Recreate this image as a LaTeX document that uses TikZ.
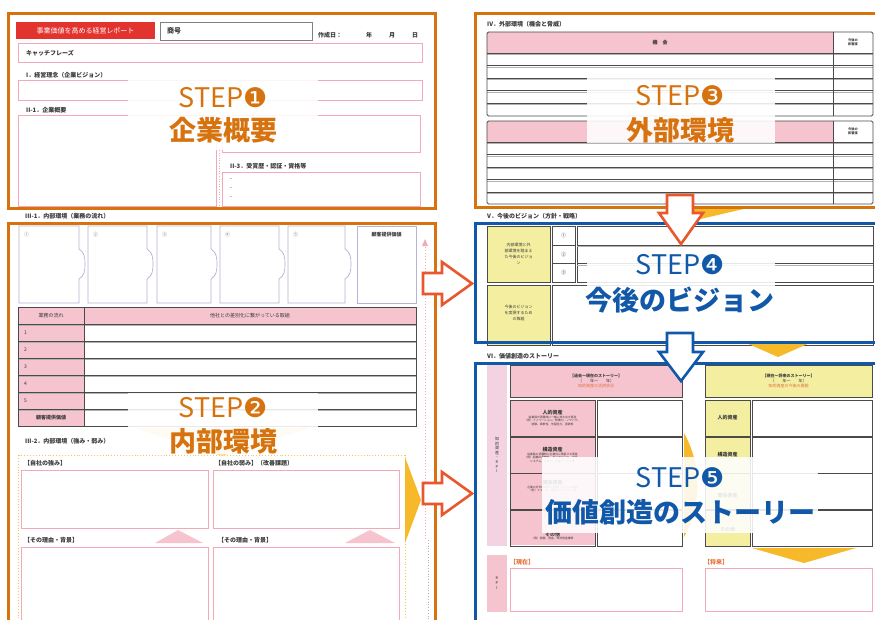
\documentclass[tikz,border=0pt]{standalone}
\usepackage{fontspec}
\newfontfamily\jp{Noto Sans CJK JP}
\newfontfamily\dingfont{DejaVu Sans}
\usetikzlibrary{calc}
\definecolor{frameO}{HTML}{D6730F}
\definecolor{frameB}{HTML}{1158A8}
\definecolor{arrR}{HTML}{E8572D}
\definecolor{pinkF}{HTML}{F5C4CE}
\definecolor{pinkL}{HTML}{F2A9B8}
\definecolor{lavF}{HTML}{F3D2E2}
\definecolor{yelF}{HTML}{F4EEA0}
\definecolor{yelW}{HTML}{F6B92A}
\definecolor{redH}{HTML}{E2332E}
\definecolor{lineD}{HTML}{4A4A4A}
\definecolor{flowL}{HTML}{B4B4D4}
\definecolor{txtG}{HTML}{3A3A3A}
\definecolor{kpiO}{HTML}{E2703A}
\begin{document}
\begin{tikzpicture}[x=1pt,y=-1pt,
  tx/.style={inner sep=0pt, text=txtG, font=\jp\fontsize{5}{6}\selectfont},
  txb/.style={inner sep=0pt, text=txtG, font=\jp\bfseries\fontsize{5}{6}\selectfont},
  sec/.style={inner sep=0pt, anchor=west, text=txtG, font=\jp\bfseries\fontsize{6}{7}\selectfont},
  desc/.style={inner sep=0pt, text=txtG, align=center, font=\jp\fontsize{2.8}{3.4}\selectfont},
  pinkbox/.style={draw=pinkL, line width=0.5pt},
  tline/.style={draw=lineD, line width=0.9pt},
  flowbox/.style={draw=flowL, line width=0.7pt},
  frameo/.style={draw=frameO, line width=3pt},
  frameb/.style={draw=frameB, line width=3pt},
  stepbg/.style={fill=white, fill opacity=0.88},
  stepa/.style={inner sep=0pt, text height=20pt, text depth=0pt, font=\jp\fontsize{27}{30}\selectfont},
  stepb/.style={inner sep=0pt, text height=22pt, text depth=2pt, font=\jp\bfseries\fontsize{27}{30}\selectfont},
  blockarrow/.style={line width=2.6pt, fill=white, line join=miter, miter limit=10},
]
\useasboundingbox (0,0) rectangle (875,619);
\clip (0,0) rectangle (875,619);
\fill[white] (0,0) rectangle (875,619);

%%%%%%%%%%%%%%%% BOX 1 : 企業概要 %%%%%%%%%%%%%%%%
\fill[redH] (16,22) rectangle (155,39);
\node[inner sep=0pt, text=white, font=\jp\fontsize{7}{8}\selectfont] (title) at (85.5,30.5) {事業価値を高める経営レポート};
\draw[gray, line width=0.8pt] (160,22) rectangle (312,40);
\node[sec, font=\jp\bfseries\fontsize{7}{8}\selectfont] (shogo) at (167,31) {商号};
\node[sec] (sakusei) at (318,35) {作成日：};
\node[sec] (nen) at (366,35) {年};
\node[sec] (tsuki) at (389,35) {月};
\node[sec] (hi) at (412,35) {日};
\draw[pinkbox] (18,43) rectangle (422,62);
\node[sec] (catch) at (26,53) {キャッチフレーズ};
\node[sec] (s1) at (26,75) {I．経営理念（企業ビジョン）};
\draw[pinkbox] (18,80) rectangle (422,100);
\node[sec] (s21) at (26,110) {II-1．企業概要};
\draw[pinkbox] (18,115) rectangle (216,206);
\draw[pinkL, dotted, line width=0.6pt] (219,150) -- (219,206);
\draw[pinkbox] (222,115) rectangle (420,152);
\node[sec] (s23) at (230,166) {II-3．受賞歴・認証・資格等};
\draw[pinkbox] (222,172) rectangle (420,206);
\foreach \yy in {180,189,198} \node[tx] at (231,\yy) {–};

%%%%%%%%%%%%%%%% BOX 2 : 内部環境 %%%%%%%%%%%%%%%%
\node[sec] (s31) at (25,216) {III-1．内部環境（業務の流れ）};
\foreach \xa/\xb/\lab in {19/79/①,88/147/②,157/211/③,220/279/④,288/345/⑤}{
  \draw[flowbox] (\xa,226) -- (\xb,226) -- (\xb,249) to[out=-30,in=90] (\xb+6,264) to[out=-90,in=30] (\xb,279) -- (\xb,303) -- (\xa,303) -- cycle;
  \node[tx, anchor=west, text=gray] at (\xa+5,235) {\lab};
}
\draw[flowbox] (357,226) rectangle (416,303);
\node[txb] (kokyaku) at (386.5,235) {顧客提供価値};
\fill[pinkF] (18,307) rectangle (416,324);
\fill[pinkF] (18,324) rectangle (84,426);
\foreach \yy in {324,341,358,375,392,409}{
  \draw[gray!60, line width=0.8pt] (18,\yy+1.5) -- (416,\yy+1.5);
  \draw[tline] (18,\yy) -- (416,\yy);
}
\draw[tline] (18,307) rectangle (416,426);
\draw[tline] (84,307) -- (84,426);
\node[tx] (gyomu) at (51,315.5) {業務の流れ};
\node[tx] (torikumi) at (250,315.5) {他社との差別化に繋がっている取組};
\foreach \n/\yy in {1/332.5,2/349.5,3/366.5,4/383.5,5/400.5}
  \node[tx, anchor=west] at (24,\yy) {\n};
\node[txb] (kokyaku2) at (51,417.5) {顧客提供価値};
\fill[yelW!45] (135,428) -- (310,428) -- (222,456) -- cycle;
\node[sec] (s32) at (25,441) {III-2．内部環境（強み・弱み）};
\draw[yelW!80, dotted, line width=0.9pt] (18,455) rectangle (405,640);
\node[sec] (tsuyomi) at (24,463) {【自社の強み】};
\node[sec] (yowami) at (215,463) {【自社の弱み】（改善課題）};
\draw[pinkbox] (21,470) rectangle (208,528);
\draw[pinkbox] (213,470) rectangle (399,528);
\fill[pinkF] (155,543) -- (178,530) -- (203,543) -- cycle;
\fill[pinkF] (345,543) -- (370,530) -- (395,543) -- cycle;
\node[sec] (riyu1) at (24,540) {【その理由・背景】};
\node[sec] (riyu2) at (218,540) {【その理由・背景】};
\draw[pinkbox] (21,547) rectangle (208,640);
\draw[pinkbox] (213,547) rectangle (399,640);
\fill[yelW] (405,457) -- (421,500) -- (405,543) -- cycle;
\draw[pinkL, dotted, line width=1pt] (425,244) -- (425,540);
\fill[pinkL] (422,246) -- (425,239) -- (428,246) -- cycle;
\draw[gray!60, dotted, line width=0.8pt] (428,540) -- (428,619);

%%%%%%%%%%%%%%%% BOX 3 : 外部環境 %%%%%%%%%%%%%%%%
\node[sec] (s4) at (487,24) {IV．外部環境（機会と脅威）};
\fill[pinkF] (487,32) rectangle (833,53);
\foreach \yy in {53,65.5,78,90.5,103}{
  \draw[gray!60, line width=0.8pt] (487,\yy+1.5) -- (873,\yy+1.5);
  \draw[tline] (487,\yy) -- (873,\yy);
}
\draw[tline, rounded corners=1.5pt] (487,32) rectangle (873,116);
\draw[tline] (833,32) -- (833,116);
\node[txb] (kikai) at (660,42.5) {機　会};
\node[desc, font=\jp\bfseries\fontsize{3.2}{4}\selectfont] (eikyo1) at (853,42.5) {今後の\\影響度};
\fill[pinkF] (487,121) rectangle (833,142);
\foreach \yy in {142,154.5,167,179.5,192}{
  \draw[gray!60, line width=0.8pt] (487,\yy+1.5) -- (873,\yy+1.5);
  \draw[tline] (487,\yy) -- (873,\yy);
}
\draw[tline, rounded corners=1.5pt] (487,121) rectangle (873,204);
\draw[tline] (833,121) -- (833,204);
\node[desc, font=\jp\bfseries\fontsize{3.2}{4}\selectfont] (eikyo2) at (853,131.5) {今後の\\影響度};
\fill[yelW] (692,207) -- (752,207) -- (692,221) -- cycle;

%%%%%%%%%%%%%%%% BOX 4 : 今後のビジョン %%%%%%%%%%%%%%%%
\node[sec] (s5) at (487,216) {V．今後のビジョン（方針・戦略）};
\fill[yelF] (487,226) rectangle (550,282);
\fill[yelF] (487,285) rectangle (550,345);
\draw[tline] (487,226) rectangle (550,282);
\draw[tline] (487,285) rectangle (550,345);
\draw[tline] (552,226) rectangle (575,282);
\draw[tline] (577,226) rectangle (873,282);
\foreach \yy in {245,263.5}{
  \draw[tline] (552,\yy) -- (575,\yy);
  \draw[tline] (577,\yy) -- (873,\yy);
  \draw[gray!60, line width=0.8pt] (577,\yy+1.5) -- (873,\yy+1.5);
}
\draw[tline] (552,285) rectangle (873,345);
\node[tx] at (563.5,235.5) {①};
\node[tx] at (563.5,254.3) {②};
\node[tx] at (563.5,272.8) {③};
\node[desc, font=\jp\fontsize{4}{6}\selectfont] (vis1) at (518.5,254) {内部環境と外\\部環境を踏まえ\\た今後のビジョ\\ン};
\node[desc, font=\jp\fontsize{4}{6}\selectfont] (vis2) at (518.5,313) {今後のビジョン\\を実現するため\\の取組};
\fill[yelW] (744,342) -- (812,342) -- (778,357) -- cycle;

%%%%%%%%%%%%%%%% BOX 5 : 価値創造のストーリー %%%%%%%%%%%%%%%%
\node[sec] (s6) at (487,356) {VI．価値創造のストーリー};
\fill[lavF] (487,365) rectangle (507,546);
\node[desc, font=\jp\fontsize{4}{4.6}\selectfont] (chiteki) at (497,455) {知\\的\\資\\産\\・\\K\\P\\I};
\fill[pinkF] (487,555) rectangle (507,612);
\node[desc, font=\jp\fontsize{4}{4.6}\selectfont] (kpi) at (497,583) {K\\P\\I};
\fill[pinkF] (510,365) rectangle (682,397);
\draw[tline] (510,365) rectangle (682,397);
\node[desc, font=\jp\fontsize{4}{5}\selectfont] (past) at (596,381) {\textbf{【過去〜現在のストーリー】}\\（　　年〜　　年）\\\textcolor{kpiO}{知的資産の活用状況}};
\fill[pinkF] (510,400) rectangle (595,545);
\foreach \yy in {400,437,473,510}{
  \draw[tline] (510,\yy) rectangle (595,\yy+36);
  \draw[tline] (597,\yy) rectangle (682,\yy+36);
}
\node[desc] (jin1) at (552.5,418) {{\jp\bfseries\fontsize{5}{7}\selectfont 人的資産}\\従業員が退職時に一緒に持ち出す資産\\（例）イノベーション、想像力、ノウハウ、\\経験、柔軟性、学習能力、意欲等};
\node[desc] (kozo1) at (552.5,455) {{\jp\bfseries\fontsize{5}{7}\selectfont 構造資産}\\従業員の退職時に企業内に残留する資産\\（例）組織の柔軟性、データベース、文化、\\システム、手続き、文書サービス等};
\node[desc] (kankei1) at (552.5,486) {{\jp\bfseries\fontsize{5}{7}\selectfont 関係資産}\\企業の対外的関係に付随した全ての資産\\（例）イメージ、顧客ロイヤリティ等};
\node[desc] (sonota1) at (552.5,536) {{\jp\bfseries\fontsize{5}{7}\selectfont その他}\\（例）設備、資金、知的財産権等};
\fill[yelW] (684,433) .. controls (702,465) and (702,505) .. (684,537) -- cycle;
\fill[yelF] (705,365) rectangle (872,397);
\draw[tline] (705,365) rectangle (872,397);
\node[desc, font=\jp\fontsize{4}{5}\selectfont] (future) at (788.5,381) {\textbf{【現在〜将来のストーリー】}\\（　　年〜　　年）\\\textcolor{kpiO}{知的資産の今後の展開}};
\fill[yelF] (705,400) rectangle (750,546);
\foreach \yy in {400,437,473,510}{
  \draw[tline] (705,\yy) rectangle (750,\yy+36);
  \draw[tline] (752,\yy) rectangle (872,\yy+36);
}
\node[txb] (jin2) at (727.5,418) {人的資産};
\node[txb] (kozo2) at (727.5,455) {構造資産};
\node[txb] (kankei2) at (727.5,496) {関係資産};
\node[txb] (sonota2) at (727.5,530) {その他};
\fill[yelW] (752,548) -- (856,548) -- (804,563) -- cycle;
\node[sec, text=kpiO] (genzai) at (510,562) {【現在】};
\draw[pinkbox] (510,568) rectangle (682,611);
\node[sec, text=kpiO] (shorai) at (704,562) {【将来】};
\draw[pinkbox] (705,568) rectangle (872,611);

%%%%%%%%%%%%%%%% STEP LABELS %%%%%%%%%%%%%%%%
\fill[stepbg] (128,80) rectangle (318,150);
\node[stepa, text=frameO] (st1) at (223,97) {STEP{\dingfont ❶}};
\node[stepb, text=frameO] (st1b) at (223,130) {企業概要};
\fill[stepbg] (128,393) rectangle (318,454);
\node[stepa, text=frameO] (st2) at (223,407) {STEP{\dingfont ❷}};
\node[stepb, text=frameO] (st2b) at (223,441) {内部環境};
\fill[stepbg] (587,76) rectangle (775,143);
\node[stepa, text=frameO] (st3) at (680,95) {STEP{\dingfont ❸}};
\node[stepb, text=frameO] (st3b) at (680,130) {外部環境};
\fill[stepbg] (587,248) rectangle (775,320);
\node[stepa, text=frameB] (st4) at (680,264) {STEP{\dingfont ❹}};
\node[stepb, text=frameB] (st4b) at (680,300) {今後のビジョン};
\fill[stepbg] (542,457) rectangle (818,533);
\node[stepa, text=frameB] (st5) at (680,477) {STEP{\dingfont ❺}};
\node[stepb, text=frameB] (st5b) at (680,512) {価値創造のストーリー};

%%%%%%%%%%%%%%%% FRAMES %%%%%%%%%%%%%%%%
\draw[frameo] (8,13) rectangle (435,208);
\draw[frameo] (8,223) rectangle (435,650);
\draw[frameo] (475,13) rectangle (900,207);
\draw[frameb] (475,223) rectangle (900,342);
\draw[frameb] (475,363) rectangle (900,650);

%%%%%%%%%%%%%%%% ARROWS %%%%%%%%%%%%%%%%
\draw[blockarrow, draw=arrR] (423,273) -- (442,273) -- (442,262) -- (472,283.5) -- (442,305) -- (442,294) -- (423,294) -- cycle;
\draw[blockarrow, draw=arrR] (423,483) -- (442,483) -- (442,472) -- (472,493.5) -- (442,515) -- (442,504) -- (423,504) -- cycle;
\draw[blockarrow, draw=arrR] (667,195) -- (693,195) -- (693,213) -- (703,213) -- (681,244) -- (659,213) -- (667,213) -- cycle;
\draw[blockarrow, draw=frameB] (667,333) -- (693,333) -- (693,352) -- (703,352) -- (681,381) -- (659,352) -- (667,352) -- cycle;
\end{tikzpicture}
\end{document}
